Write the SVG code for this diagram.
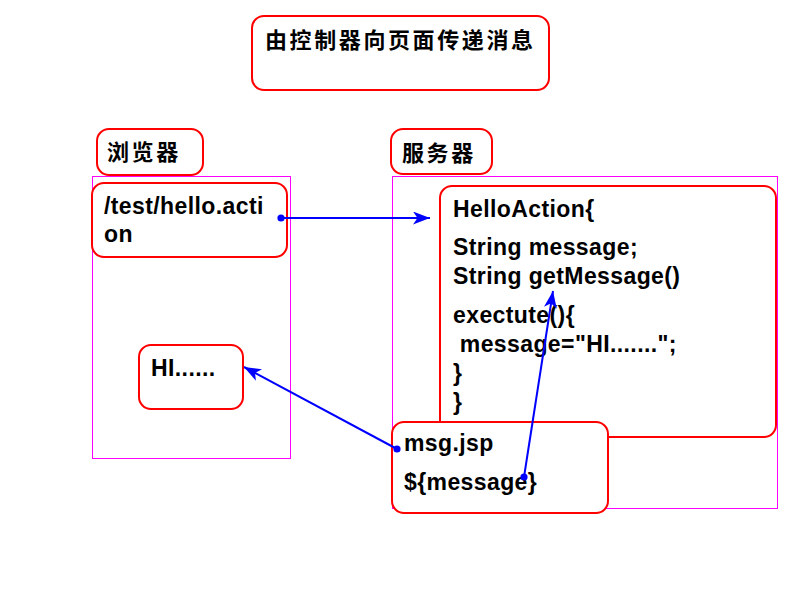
<svg xmlns="http://www.w3.org/2000/svg" width="800" height="600" viewBox="0 0 800 600">
<style>
.box{fill:#fff;stroke:#ff0000;stroke-width:2}
.frame{fill:none;stroke:#ff00ff;stroke-width:1}
.cjk{font-family:"Noto Sans CJK SC","Noto Sans",sans-serif;font-size:22px;font-weight:bold;letter-spacing:2.6px;fill:#000}
.t{font-family:"Liberation Sans",Arial,sans-serif;font-weight:bold;font-size:23px;letter-spacing:0.4px;fill:#000}
.conn{stroke:#0000ff;stroke-width:2;fill:none;marker-start:url(#dot);marker-end:url(#arr)}
</style>
<defs>
<marker id="arr" viewBox="0 0 17 13" refX="17" refY="6.5" markerWidth="17" markerHeight="13" orient="auto" markerUnits="userSpaceOnUse">
<path d="M0,0 L17,6.5 L0,13 L4.5,6.5 Z" fill="#0000ff"/>
</marker>
<marker id="dot" viewBox="0 0 8 8" refX="4" refY="4" markerWidth="8" markerHeight="8" markerUnits="userSpaceOnUse">
<circle cx="4" cy="4" r="3.6" fill="#0000ff"/>
</marker>
</defs>

<g id="title">
<rect class="box" x="252" y="16" width="297" height="74" rx="12"/>
<text class="cjk" x="265" y="48">由控制器向页面传递消息</text>
</g>

<g id="browser-label">
<rect class="box" x="97" y="129" width="106" height="46" rx="12"/>
<text class="cjk" x="107" y="160">浏览器</text>
</g>

<g id="server-label">
<rect class="box" x="391" y="129" width="101" height="45" rx="12"/>
<text class="cjk" x="402" y="161">服务器</text>
</g>

<g id="browser">
<rect class="frame" x="92.5" y="176.5" width="198" height="282"/>
</g>

<g id="server">
<rect class="frame" x="392.5" y="176.5" width="385" height="332"/>
</g>

<g id="request">
<rect class="box" x="92" y="183" width="195" height="74" rx="12"/>
<text class="t" x="104" y="214">/test/hello.acti</text>
<text class="t" x="104" y="242">on</text>
</g>

<g id="hello-action">
<rect class="box" x="440" y="186" width="336" height="251" rx="12"/>
<text class="t" x="453" y="217">HelloAction{</text>
<text class="t" x="453" y="255">String message;</text>
<text class="t" x="453" y="284">String getMessage()</text>
<text class="t" x="453" y="323">exectute(){</text>
<text class="t" x="453" y="352" xml:space="preserve"> message="HI.......";</text>
<text class="t" x="453" y="381">}</text>
<text class="t" x="453" y="410">}</text>
</g>

<g id="msg-jsp">
<rect class="box" x="392" y="422" width="216" height="91" rx="12"/>
<text class="t" x="404" y="451">msg.jsp</text>
<text class="t" x="404" y="490">${message}</text>
</g>

<g id="hi">
<rect class="box" x="139" y="345" width="104" height="64" rx="12"/>
<text class="t" x="151" y="376">HI......</text>
</g>

<g id="connectors">
<line class="conn" x1="281" y1="218" x2="430" y2="218"/>
<line class="conn" x1="397" y1="449" x2="244" y2="367"/>
<line class="conn" x1="524" y1="477" x2="553" y2="291"/>
</g>
</svg>
